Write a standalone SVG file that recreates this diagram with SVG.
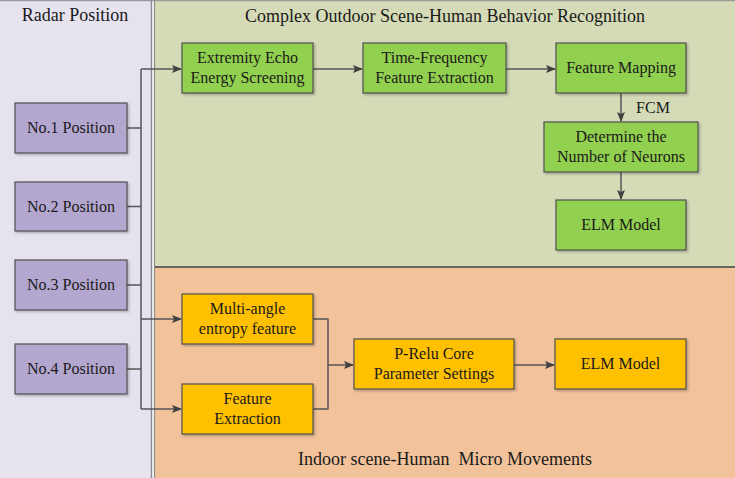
<svg xmlns="http://www.w3.org/2000/svg" width="735" height="478" viewBox="0 0 735 478">
<defs>
<marker id="ah" markerWidth="10" markerHeight="8" refX="9" refY="4" orient="auto" markerUnits="userSpaceOnUse">
<path d="M0,0 L10,4 L0,8 L2,4 Z" fill="#404040"/>
</marker>
<filter id="sh" x="-10%" y="-10%" width="130%" height="130%">
<feDropShadow dx="1.5" dy="1.5" stdDeviation="1" flood-color="#000" flood-opacity="0.25"/>
</filter>
</defs>
<style>
text{font-family:"Liberation Serif","Times New Roman","DejaVu Serif",serif;fill:#1a1a1a;text-anchor:middle}
.t{font-size:18px}
.b{font-size:16px}
.box{stroke:#505050;stroke-width:1.2;filter:url(#sh)}
.p{fill:#b4a7cf}
.g{fill:#92d050}
.o{fill:#ffc000}
.c{fill:none;stroke:#555;stroke-width:1.5}
.ca{fill:none;stroke:#555;stroke-width:1.5;marker-end:url(#ah)}
</style>
<g id="panels">
<rect x="0" y="0" width="152" height="478" fill="#e6e3ef"/>
<rect x="154" y="0" width="581" height="267" fill="#d5dbb7"/>
<rect x="154" y="267" width="581" height="211" fill="#f2c39b"/>
<line x1="0" y1="0.5" x2="735" y2="0.5" stroke="#9a9a9a" stroke-width="1.5"/>
<line x1="151.5" y1="0" x2="151.5" y2="478" stroke="#8a8a8a" stroke-width="1.5"/>
<line x1="154.5" y1="0" x2="154.5" y2="478" stroke="#8a8a8a" stroke-width="1.2"/>
<line x1="155" y1="267" x2="735" y2="267" stroke="#404040" stroke-width="1.5"/>
<text class="t" x="75" y="21">Radar Position</text>
<text class="t" x="445" y="22">Complex Outdoor Scene-Human Behavior Recognition</text>
<text class="t" x="445" y="465" xml:space="preserve">Indoor scene-Human  Micro Movements</text>
</g>
<g id="connectors">
<path class="c" d="M127,128 H141 M127,206.5 H141 M127,285 H141 M127,369 H141"/>
<path class="c" d="M141,69 V409"/>
<path class="ca" d="M141,69 H181"/>
<path class="ca" d="M141,319 H181"/>
<path class="ca" d="M141,409 H181"/>
<path class="ca" d="M313,69 H362"/>
<path class="ca" d="M506,69 H555"/>
<path class="ca" d="M621,93 V121"/>
<path class="ca" d="M621,172 V199"/>
<path class="c" d="M313,319 H328 V409 H313"/>
<path class="ca" d="M328,365 H353"/>
<path class="ca" d="M514,365 H554"/>
<text class="b" x="653" y="113">FCM</text>
</g>
<g id="n1"><rect class="box p" x="15" y="103" width="112" height="50"/><text class="b" x="71" y="133">No.1 Position</text></g>
<g id="n2"><rect class="box p" x="15" y="182" width="112" height="49"/><text class="b" x="71" y="212">No.2 Position</text></g>
<g id="n3"><rect class="box p" x="15" y="260" width="112" height="50"/><text class="b" x="71" y="290">No.3 Position</text></g>
<g id="n4"><rect class="box p" x="15" y="344" width="112" height="50"/><text class="b" x="71" y="374">No.4 Position</text></g>
<g id="extremity"><rect class="box g" x="182" y="43" width="131" height="50"/><text class="b" x="247.5" y="63">Extremity Echo</text><text class="b" x="247.5" y="83">Energy Screening</text></g>
<g id="timefreq"><rect class="box g" x="363" y="43" width="143" height="50"/><text class="b" x="434.5" y="63">Time-Frequency</text><text class="b" x="434.5" y="83">Feature Extraction</text></g>
<g id="mapping"><rect class="box g" x="556" y="43" width="130" height="50"/><text class="b" x="621" y="73">Feature Mapping</text></g>
<g id="neurons"><rect class="box g" x="544" y="122" width="154" height="50"/><text class="b" x="621" y="142">Determine the</text><text class="b" x="621" y="162">Number of Neurons</text></g>
<g id="elm1"><rect class="box g" x="556" y="200" width="130" height="50"/><text class="b" x="621" y="230">ELM Model</text></g>
<g id="multiangle"><rect class="box o" x="182" y="294" width="131" height="50"/><text class="b" x="247.5" y="314">Multi-angle</text><text class="b" x="247.5" y="334">entropy feature</text></g>
<g id="featext"><rect class="box o" x="182" y="384" width="131" height="50"/><text class="b" x="247.5" y="404">Feature</text><text class="b" x="247.5" y="424">Extraction</text></g>
<g id="prelu"><rect class="box o" x="354" y="339" width="160" height="50"/><text class="b" x="434" y="359">P-Relu Core</text><text class="b" x="434" y="379">Parameter Settings</text></g>
<g id="elm2"><rect class="box o" x="555" y="339" width="131" height="50"/><text class="b" x="620.5" y="369">ELM Model</text></g>
</svg>
